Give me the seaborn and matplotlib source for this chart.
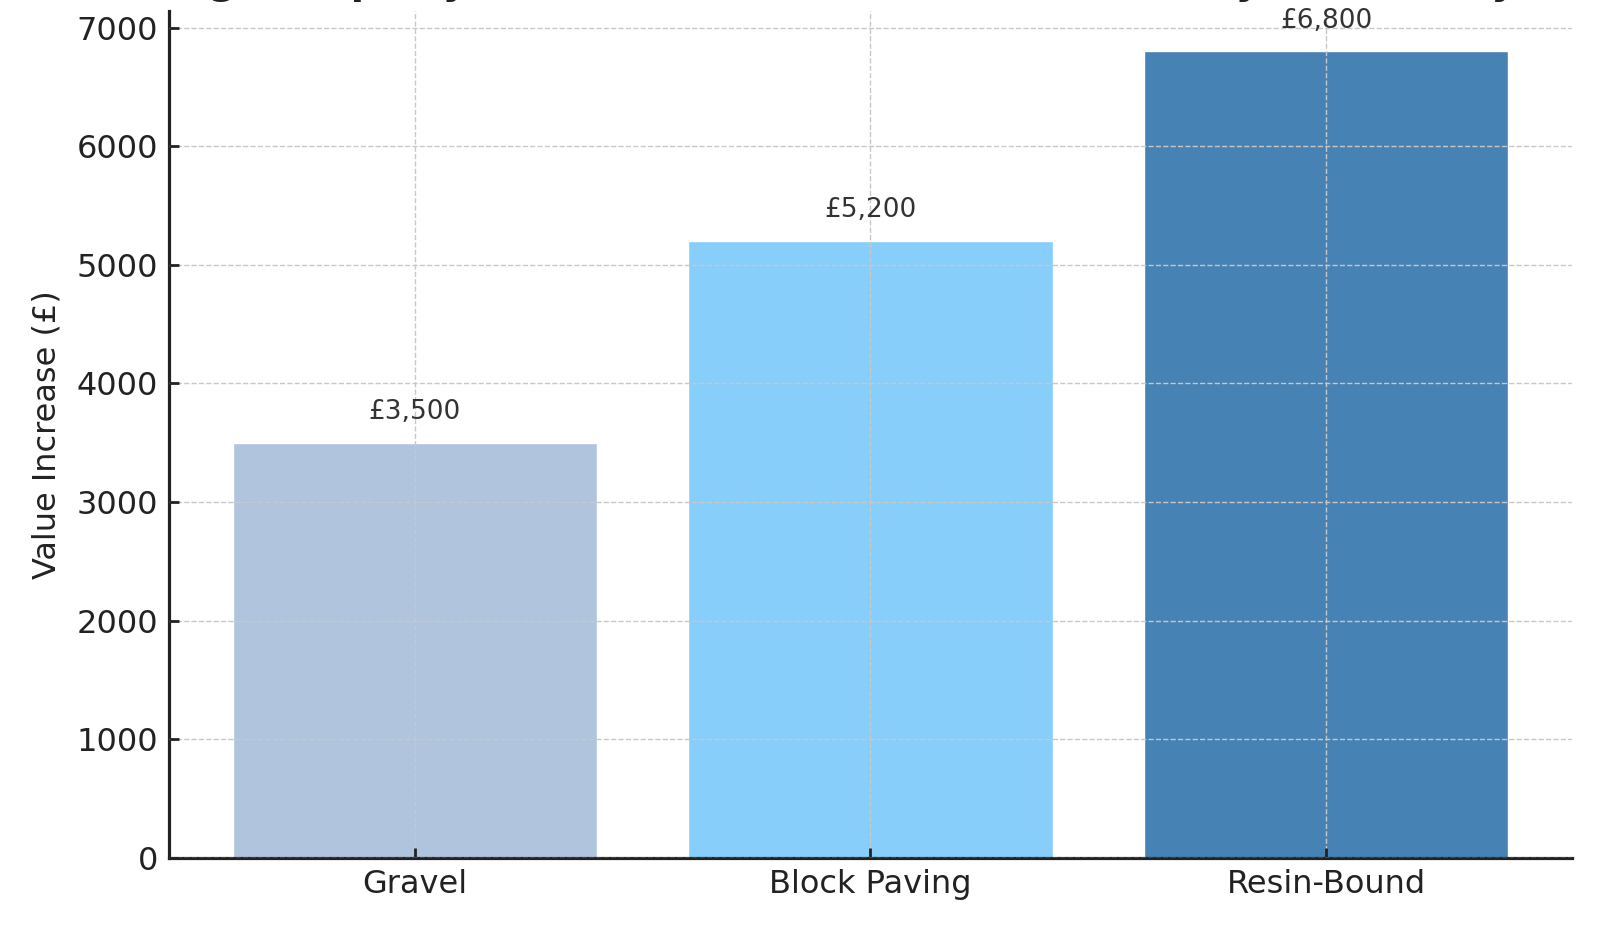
import matplotlib
matplotlib.use("Agg")
import matplotlib.pyplot as plt
import seaborn as sns

categories = ["Gravel", "Block Paving", "Resin-Bound"]
values = [3500, 5200, 6800]
colors = ["#B0C4DE", "#87CEFA", "#4682B4"]
yticks = [0, 1000, 2000, 3000, 4000, 5000, 6000, 7000]
title = "Average Property Value Increase Added to a Home by a Driveway"
ylabel = "Value Increase (£)"

sns.set_style("white")
plt.rcParams["font.family"] = ["DejaVu Sans"]

fig = plt.figure(figsize=(16, 9.3), dpi=100)
ax = fig.add_axes([0.1056, 0.0774, 0.9825 - 0.1056, 0.9882 - 0.0774])

sns.barplot(x=categories, y=values, hue=categories, palette=colors,
            legend=False, width=0.8, saturation=1, ax=ax, zorder=1)

ax.set_xlim(-0.54, 2.54)
ax.set_ylim(0, max(values) * 1.05)
ax.set_yticks(yticks)
ax.set_yticklabels([str(t) for t in yticks])

ax.set_axisbelow(False)
ax.grid(True, axis="both", linestyle="--", color="#c8c8c8", linewidth=1.0, zorder=2)

for s in ["top", "right"]:
    ax.spines[s].set_visible(False)
for s in ["left", "bottom"]:
    ax.spines[s].set_color("#222222")
    ax.spines[s].set_linewidth(2.3)

ax.tick_params(axis="both", direction="in", length=7, width=2.0, color="#222222",
               labelsize=23, labelcolor="#222222", bottom=True, left=True)
ax.tick_params(axis="y", pad=8)
ax.tick_params(axis="x", pad=8)

ax.set_xlabel("")
ax.set_ylabel(ylabel, fontsize=23, color="#222222", labelpad=10)
fig.text(0.5, 1.0068, title, ha="center", va="baseline", fontsize=28,
         fontweight="bold", color="#222222")

for i, v in enumerate(values):
    ax.text(i, v + 150, f"£{v:,}", ha="center", va="bottom", fontsize=19,
            color="#333333", zorder=3)

fig.savefig("out.png", dpi=100)
